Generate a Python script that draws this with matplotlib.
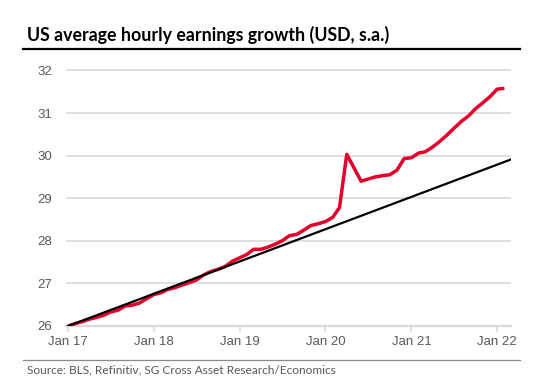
import numpy as np
import pandas as pd
import matplotlib
matplotlib.use("Agg")
import matplotlib.pyplot as plt
import matplotlib.dates as mdates
from matplotlib.lines import Line2D

# monthly average hourly earnings, Jan 2017 - Feb 2022 (USD)
earnings = [
    26.00, 26.06, 26.10, 26.16, 26.20, 26.25, 26.33, 26.37, 26.47, 26.49, 26.54, 26.64,  # 2017
    26.74, 26.78, 26.86, 26.90, 26.96, 27.02, 27.08, 27.20, 27.28, 27.33, 27.40, 27.52,  # 2018
    27.60, 27.68, 27.80, 27.80, 27.85, 27.92, 28.00, 28.12, 28.15, 28.25, 28.36, 28.40,  # 2019
    28.45, 28.55, 28.78, 30.03, 29.72, 29.40, 29.45, 29.50, 29.53, 29.55, 29.66, 29.93,  # 2020
    29.95, 30.06, 30.09, 30.20, 30.33, 30.48, 30.64, 30.80, 30.93, 31.10, 31.24, 31.38,  # 2021
    31.56, 31.58,                                                                        # 2022
]
earnings_dates = pd.date_range("2017-01-01", periods=len(earnings), freq="MS")

# pre-pandemic trend line (end points)
trend_dates = pd.to_datetime(["2017-01-01", "2022-03-01"])
trend_values = [26.0, 29.91]

y_ticks = [26, 27, 28, 29, 30, 31, 32]
x_tick_years = [2017, 2018, 2019, 2020, 2021, 2022]

title = "US average hourly earnings growth (USD, s.a.)"
source = "Source: BLS, Refinitiv, SG Cross Asset Research/Economics"

W, H = 535, 387
fig = plt.figure(figsize=(W / 100, H / 100), dpi=100)
ax = fig.add_axes([66 / W, 1 - 326 / H, (511 - 66) / W, (326 - 59.75) / H])

grid_col = "#d9d9d9"
text_col = "#595959"

ax.plot(earnings_dates, earnings, color="#e3002c", lw=2.5, zorder=3,
        solid_capstyle="butt", solid_joinstyle="round")
ax.plot(trend_dates, trend_values, color="black", lw=1.6, zorder=4)

ax.set_ylim(26, 32.25)
ax.set_xlim(pd.Timestamp("2016-12-23"), pd.Timestamp("2022-03-01"))

ax.set_yticks(y_ticks)
ax.set_xticks([pd.Timestamp(f"{y}-01-01") for y in x_tick_years])
ax.xaxis.set_major_formatter(mdates.DateFormatter("%b %y"))

ax.grid(axis="y", color=grid_col, lw=1.2)
ax.set_axisbelow(True)
for s in ["top", "right", "left"]:
    ax.spines[s].set_visible(False)
ax.spines["bottom"].set_color(grid_col)
ax.spines["bottom"].set_linewidth(1.6)

ax.tick_params(axis="y", length=0, pad=10, labelcolor=text_col, labelsize=9.5)
ax.tick_params(axis="x", length=4, width=1.2, color=grid_col, pad=3,
               labelcolor=text_col, labelsize=9.5)
for lab in ax.get_xticklabels() + ax.get_yticklabels():
    lab.set_fontfamily("Liberation Sans")

# title, rules and source
fig.text(27 / W, 1 - 35 / H, title, fontfamily="Lato", fontweight="bold",
         fontsize=12.8, va="center", ha="left")
fig.add_artist(Line2D([23 / W, 520 / W], [1 - 49 / H] * 2, color="black",
                      lw=1.6, transform=fig.transFigure))
fig.add_artist(Line2D([23 / W, 520 / W], [1 - 360 / H] * 2, color="#8a8a8a",
                      lw=0.9, transform=fig.transFigure))
fig.text(27 / W, 1 - 370 / H, source, fontfamily="Lato", fontsize=8.6,
         color=text_col, va="center", ha="left")

fig.savefig("out.png", dpi=100)
